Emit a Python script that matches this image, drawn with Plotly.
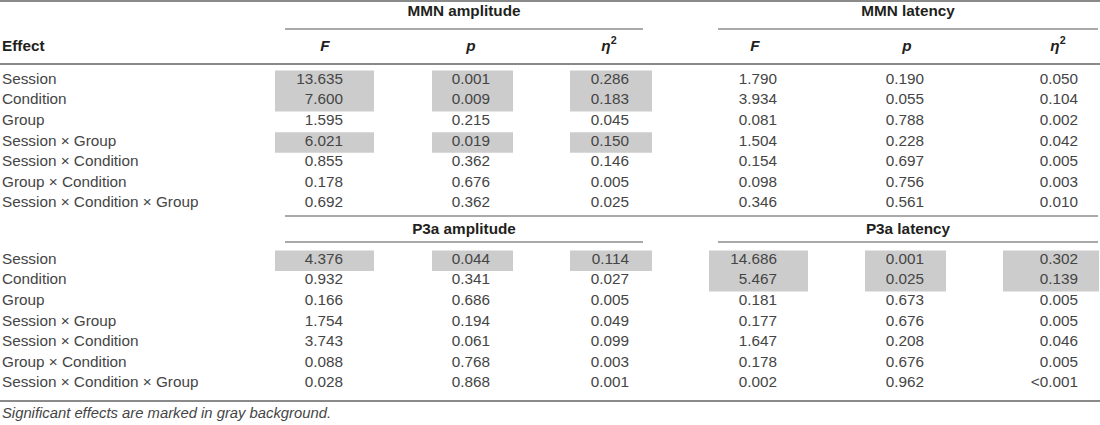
import plotly.graph_objects as go

# ---------------- data ----------------
effects = ["Session", "Condition", "Group", "Session × Group",
           "Session × Condition", "Group × Condition", "Session × Condition × Group"]

group_titles = [["MMN amplitude", "MMN latency"], ["P3a amplitude", "P3a latency"]]
col_headers = ["<b><i>F</i></b>", "<b><i>p</i></b>", "<b><i>η</i><sup>2</sup></b>"]

mmn_amp_F = ["13.635", "7.600", "1.595", "6.021", "0.855", "0.178", "0.692"]
mmn_amp_p = ["0.001", "0.009", "0.215", "0.019", "0.362", "0.676", "0.362"]
mmn_amp_eta = ["0.286", "0.183", "0.045", "0.150", "0.146", "0.005", "0.025"]
mmn_lat_F = ["1.790", "3.934", "0.081", "1.504", "0.154", "0.098", "0.346"]
mmn_lat_p = ["0.190", "0.055", "0.788", "0.228", "0.697", "0.756", "0.561"]
mmn_lat_eta = ["0.050", "0.104", "0.002", "0.042", "0.005", "0.003", "0.010"]

p3a_amp_F = ["4.376", "0.932", "0.166", "1.754", "3.743", "0.088", "0.028"]
p3a_amp_p = ["0.044", "0.341", "0.686", "0.194", "0.061", "0.768", "0.868"]
p3a_amp_eta = ["0.114", "0.027", "0.005", "0.049", "0.099", "0.003", "0.001"]
p3a_lat_F = ["14.686", "5.467", "0.181", "0.177", "1.647", "0.178", "0.002"]
p3a_lat_p = ["0.001", "0.025", "0.673", "0.676", "0.208", "0.676", "0.962"]
p3a_lat_eta = ["0.302", "0.139", "0.005", "0.005", "0.046", "0.005", "<0.001"]

# significant rows (gray background) per measure
sig_mmn_amp = [True, True, False, True, False, False, False]
sig_mmn_lat = [False] * 7
sig_p3a_amp = [True, False, False, False, False, False, False]
sig_p3a_lat = [True, True, False, False, False, False, False]

footnote = "Significant effects are marked in gray background."

sections = [
    {"cols": [mmn_amp_F, mmn_amp_p, mmn_amp_eta, mmn_lat_F, mmn_lat_p, mmn_lat_eta],
     "sig": [sig_mmn_amp, sig_mmn_lat]},
    {"cols": [p3a_amp_F, p3a_amp_p, p3a_amp_eta, p3a_lat_F, p3a_lat_p, p3a_lat_eta],
     "sig": [sig_p3a_amp, sig_p3a_lat]},
]

# ---------------- layout constants ----------------
W, H = 1100, 425
FONT = "Liberation Sans, Arial, Helvetica, sans-serif"
FS = 15.3
TXT = "#454545"
HDR = "#231f20"
GRAY_BOX = "#cccccc"

col_right = [343, 490, 629, 777, 924, 1078]       # right edge of numbers
col_head_x = [325, 471, 609, 755, 907, 1058]       # header centers
box_x = [(275, 374), (432, 513), (570, 652), (709, 808), (865, 946), (1003, 1099)]
group_span = [(285, 643), (718, 1098)]
section_row0 = [80, 260]
section_title_y = [12, 230]
section_line_y = [29, 242]
row_step = 20.6

fig = go.Figure()
shapes = []

def hline(x0, x1, y, color, width):
    shapes.append(dict(type="line", xref="x", yref="y", x0=x0, x1=x1, y0=y, y1=y,
                       line=dict(color=color, width=width)))

# horizontal rules
hline(0, W, 1, "#8a8a8a", 2)
hline(0, W, 64, "#8a8a8a", 2)
hline(285, W - 2, 216, "#555555", 1.2)
hline(0, W, 401, "#8a8a8a", 2)
for s in range(2):
    for g in range(2):
        hline(group_span[g][0], group_span[g][1], section_line_y[s], "#555555", 1.2)

# gray boxes for significant effects (merge consecutive rows)
for s, sec in enumerate(sections):
    for g in range(2):
        sig = sec["sig"][g]
        i = 0
        while i < len(sig):
            if sig[i]:
                j = i
                while j + 1 < len(sig) and sig[j + 1]:
                    j += 1
                y0 = section_row0[s] + i * row_step - 9.5
                y1 = section_row0[s] + j * row_step + 11
                for c in range(3):
                    bx = box_x[g * 3 + c]
                    shapes.append(dict(type="rect", xref="x", yref="y", x0=bx[0], x1=bx[1],
                                       y0=y0, y1=y1, fillcolor=GRAY_BOX, line=dict(width=0),
                                       layer="below"))
                i = j + 1
            else:
                i += 1

# group titles
for s in range(2):
    fig.add_trace(go.Scatter(
        x=[(a + b) / 2 for a, b in group_span], y=[section_title_y[s]] * 2,
        text=["<b>%s</b>" % t for t in group_titles[s]], mode="text",
        textposition="middle center", textfont=dict(family=FONT, size=FS, color=HDR),
        hoverinfo="skip", showlegend=False))

# column headers
fig.add_trace(go.Scatter(
    x=[2], y=[47], text=["<b>Effect</b>"], mode="text", textposition="middle right",
    textfont=dict(family=FONT, size=FS, color=HDR), hoverinfo="skip", showlegend=False))
fig.add_trace(go.Scatter(
    x=col_head_x, y=[47] * 6, text=col_headers * 2, mode="text", textposition="middle center",
    textfont=dict(family=FONT, size=FS, color=HDR), hoverinfo="skip", showlegend=False))

# rows
for s, sec in enumerate(sections):
    ys = [section_row0[s] + i * row_step for i in range(len(effects))]
    fig.add_trace(go.Scatter(
        x=[2] * len(effects), y=ys, text=effects, mode="text", textposition="middle right",
        textfont=dict(family=FONT, size=FS, color=TXT), hoverinfo="skip", showlegend=False))
    for c, col in enumerate(sec["cols"]):
        fig.add_trace(go.Scatter(
            x=[col_right[c]] * len(col), y=ys, text=col, mode="text",
            textposition="middle left",
            textfont=dict(family=FONT, size=FS, color=TXT), hoverinfo="skip", showlegend=False))

# footnote
fig.add_trace(go.Scatter(
    x=[2], y=[414], text=["<i>%s</i>" % footnote], mode="text", textposition="middle right",
    textfont=dict(family=FONT, size=14.8, color=TXT), hoverinfo="skip", showlegend=False))

fig.update_layout(
    width=W, height=H, margin=dict(l=0, r=0, t=0, b=0),
    paper_bgcolor="white", plot_bgcolor="white", shapes=shapes,
    xaxis=dict(range=[0, W], visible=False, fixedrange=True),
    yaxis=dict(range=[H, 0], visible=False, fixedrange=True),
)

fig.write_html("out.html", config={"displayModeBar": False},
               post_script="document.body.style.margin='0';document.body.style.overflow='hidden';")
